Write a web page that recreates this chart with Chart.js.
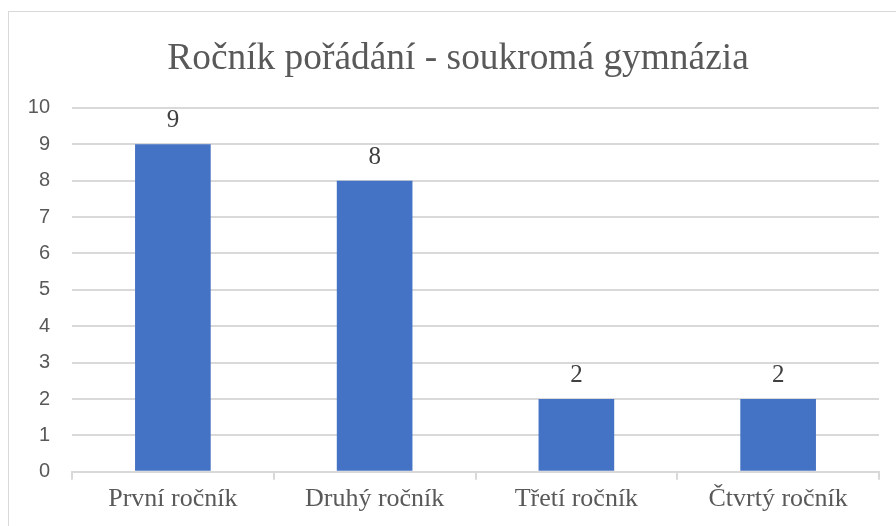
<!DOCTYPE html>
<html lang="cs">
<head>
  <meta charset="UTF-8" />
  <title>Ročník pořádání - soukromá gymnázia</title>
  <script src="https://cdn.jsdelivr.net/npm/chart.js"></script>
  <style>
    html, body { margin: 0; padding: 0; background: #fff; }
    #wrap { position: relative; width: 896px; height: 526px; overflow: hidden; }
    #frame { position: absolute; left: 8px; top: 11px; width: 900px; height: 530px; border: 1px solid #d9d9d9; box-sizing: border-box; }
    #chartCanvas { position: absolute; left: 0; top: 0; }
  </style>
</head>
<body>
  <div id="wrap">
    <div id="frame"></div>
    <canvas id="chartCanvas" width="896" height="526"></canvas>
  </div>

  <script>
    const categories = ['První ročník', 'Druhý ročník', 'Třetí ročník', 'Čtvrtý ročník'];
    const values = [9, 8, 2, 2];
    const yTicks = [0, 1, 2, 3, 4, 5, 6, 7, 8, 9, 10];

    // popisky hodnot nad sloupci
    const valueLabels = {
      id: 'valueLabels',
      afterDatasetsDraw(chart) {
        const ctx = chart.ctx;
        const meta = chart.getDatasetMeta(0);
        ctx.save();
        ctx.font = '25px "Liberation Serif"';
        ctx.fillStyle = '#404040';
        ctx.textAlign = 'center';
        ctx.textBaseline = 'alphabetic';
        meta.data.forEach((bar, i) => {
          ctx.fillText(String(values[i]), bar.x, bar.y - 17);
        });
        ctx.restore();
      }
    };

    // nadpis je v originale trochu posunuty doprava
    const titleShift = {
      id: 'titleShift',
      afterLayout(chart) {
        if (chart.titleBlock) chart.titleBlock.left += 37;
      }
    };

    new Chart(document.getElementById('chartCanvas'), {
      type: 'bar',
      data: {
        labels: categories,
        datasets: [{
          data: values,
          backgroundColor: '#4472C4',
          barPercentage: 0.75,
          categoryPercentage: 0.5
        }]
      },
      options: {
        responsive: false,
        animation: false,
        layout: { padding: { top: 10, left: 0, right: 17, bottom: 7 } },
        plugins: {
          legend: { display: false },
          tooltip: { enabled: false },
          title: {
            display: true,
            text: 'Ročník pořádání - soukromá gymnázia',
            color: '#595959',
            font: { family: '"Liberation Serif"', size: 37.4, weight: 'normal' },
            padding: { top: 27, bottom: 26 }
          }
        },
        scales: {
          x: {
            grid: { display: true, drawOnChartArea: false, drawTicks: true, tickLength: 8, color: '#d9d9d9', lineWidth: 2, offset: true },
            border: { color: '#d9d9d9', width: 2 },
            ticks: { color: '#595959', font: { family: '"Liberation Serif"', size: 26 }, padding: 4 }
          },
          y: {
            min: 0,
            max: 10,
            afterBuildTicks(axis) { axis.ticks = yTicks.map(v => ({ value: v })); },
            afterFit(axis) { axis.width = 72; },
            grid: { color: '#d9d9d9', lineWidth: 2, drawTicks: false },
            border: { display: false },
            ticks: { color: '#595959', font: { family: '"Liberation Sans"', size: 20 }, padding: 22 }
          }
        }
      },
      plugins: [valueLabels, titleShift]
    });
  </script>
</body>
</html>
